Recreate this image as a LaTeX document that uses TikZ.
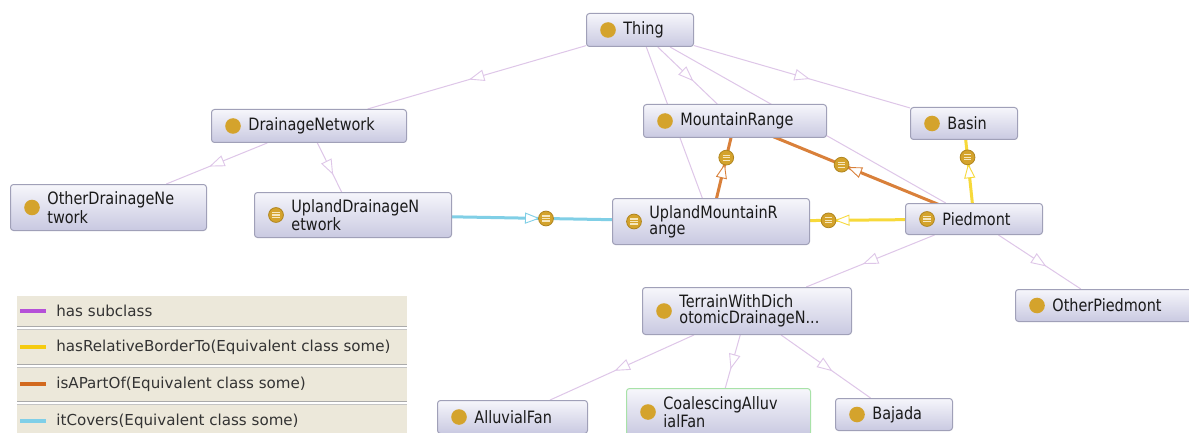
\documentclass[tikz,border=0pt]{standalone}
\usepackage{fontspec}
\usetikzlibrary{decorations.markings}
\newfontfamily\nodefont[FakeStretch=0.85]{DejaVu Sans}
\newfontfamily\legfont{DejaVu Sans}

\definecolor{gold}{HTML}{D4A32C}
\definecolor{golddk}{HTML}{B0851F}
\definecolor{eqline}{HTML}{F6E7BE}
\definecolor{boxline}{HTML}{A0A0B8}
\definecolor{boxtop}{HTML}{F6F6FB}
\definecolor{boxbot}{HTML}{C9C9E1}
\definecolor{selline}{HTML}{A8E2A8}
\definecolor{txt}{HTML}{1A1A1A}
\definecolor{subc}{HTML}{DEC6E8}
\definecolor{borderto}{HTML}{F7D93A}
\definecolor{partof}{HTML}{D9803A}
\definecolor{covers}{HTML}{80CFE6}
\definecolor{legbg}{HTML}{ECE8DA}
\definecolor{legsep}{HTML}{AAAAAA}
\definecolor{legtxt}{HTML}{333333}
\definecolor{swsub}{HTML}{B550D8}
\definecolor{swborder}{HTML}{F5CB10}
\definecolor{swpart}{HTML}{D2691E}
\definecolor{swcover}{HTML}{7FCFE8}

\pgfdeclarelayer{canvas}
\pgfdeclarelayer{background}
\pgfsetlayers{canvas,background,main}

% class box: name, x1, y1, x2, y2 (pixel grid), icon style, extra box style, label
\newcommand\classbox[8]{%
  \pgfmathsetmacro\boxw{(#4-#2)*0.5}%
  \pgfmathsetmacro\boxh{(#5-#3)*0.5}%
  \node[clsbox,#7,minimum width=\boxw pt,minimum height=\boxh pt,anchor=north west] (#1) at (#2,#3) {};
  \node[#6] (#1-i) at ([xshift=11pt]#1.west) {};
  \node[clstext] (#1-t) at ([xshift=18.5pt]#1.west) {#8};
}

\tikzset{
  clsbox/.style={rectangle, rounded corners=1.5pt, draw=boxline, line width=0.5pt,
    top color=boxtop, bottom color=boxbot, inner sep=0pt},
  clstext/.style={anchor=west, inner sep=0pt, align=left, text=txt,
    font=\nodefont\fontsize{8.5}{8.1}\selectfont},
  doticon/.style={circle, fill=gold, minimum size=7.8pt, inner sep=0pt},
  eqicon/.style={circle, fill=gold, draw=golddk, line width=0.4pt, minimum size=7.4pt, inner sep=0pt,
    path picture={\foreach \d in {-1.25,0,1.25}
      \draw[eqline, line width=0.55pt] ([xshift=-1.8pt,yshift=\d pt]path picture bounding box.center)
        -- ([xshift=1.8pt,yshift=\d pt]path picture bounding box.center);}},
  subedge/.style={draw=subc, line width=0.5pt,
    postaction={decorate, decoration={markings, mark=at position 0.5 with {
      \filldraw[fill=white, draw=subc, line width=0.45pt]
        (3.4pt,0pt) -- (-3.4pt,2.6pt) -- (-3.4pt,-2.6pt) -- cycle;}}}},
  reledge/.style n args={2}{draw=#1, line width=1.5pt,
    postaction={decorate, decoration={markings, mark=at position 0.5 with {
      \filldraw[fill=white, draw=#1, line width=0.45pt]
        (3.25pt,0pt) -- (-3.25pt,2.5pt) -- (-3.25pt,-2.5pt) -- cycle;
      \node[eqicon] (#2) at (7pt,0pt) {};}}}},
  legtext/.style={anchor=west, inner sep=0pt, text=legtxt,
    font=\legfont\fontsize{7.55}{9}\selectfont},
  swatch/.style={line width=2pt}
}

\begin{document}
\begin{tikzpicture}[x=0.5pt, y=-0.5pt]
\begin{pgfonlayer}{canvas}
  \fill[white] (0,0) rectangle (1189,433);
\end{pgfonlayer}
\useasboundingbox (0,0) rectangle (1189,433);

% class boxes
\classbox{thing}{586}{13}{693}{46}{doticon}{}{Thing}
\classbox{dn}{211}{109}{406}{142}{doticon}{}{DrainageNetwork}
\classbox{mr}{643}{104}{826}{137}{doticon}{}{MountainRange}
\classbox{basin}{910}{107}{1017}{139}{doticon}{}{Basin}
\classbox{odn}{10}{184}{206}{230}{doticon}{}{OtherDrainageNe\\twork}
\classbox{udn}{254}{192}{451}{237}{eqicon}{}{UplandDrainageN\\etwork}
\classbox{umr}{612}{198}{809}{244}{eqicon}{}{UplandMountainR\\ange}
\classbox{pied}{905}{203}{1042}{234}{eqicon}{}{Piedmont}
\classbox{opied}{1015}{289}{1196}{321}{doticon}{}{OtherPiedmont}
\classbox{terr}{642}{287}{851}{334}{doticon}{}{TerrainWithDich\\otomicDrainageN...}
\classbox{alluv}{437}{400}{587}{433}{doticon}{}{AlluvialFan}
\classbox{coal}{626}{388}{810}{435}{doticon}{draw=selline}{CoalescingAlluv\\ialFan}
\classbox{bajada}{835}{398}{952}{430}{doticon}{}{Bajada}

% connectors, kept behind the boxes
\begin{pgfonlayer}{background}
  \draw[subedge] (thing) -- (dn);
  \draw[subedge] (thing) -- (mr);
  \draw[subedge] (thing) -- (basin);
  \draw[subedge] (thing) -- (umr);
  \draw[subedge] (thing) -- (pied);
  \draw[subedge] (dn) -- (odn);
  \draw[subedge] (dn) -- (udn);
  \draw[subedge] (pied) -- (terr);
  \draw[subedge] (pied) -- (opied);
  \draw[subedge] (terr) -- (alluv);
  \draw[subedge] (terr) -- (coal);
  \draw[subedge] (terr) -- (bajada);

  \draw[reledge={covers}{cov1}] (udn.center) -- (umr.center);
  \draw[reledge={partof}{part1}] (umr.center) -- (mr.center);
  \draw[reledge={partof}{part2}] (pied.center) -- (mr.center);
  \draw[reledge={borderto}{bord1}] (pied.center) -- (basin.center);
  \draw[reledge={borderto}{bord2}] (pied.center) -- (umr.center);
\end{pgfonlayer}

% legend
\fill[legbg] (17,296) rectangle (407,326);
\fill[legbg] (17,330) rectangle (407,364);
\fill[legbg] (17,368) rectangle (407,401);
\fill[legbg] (17,405) rectangle (407,433);
\foreach \s in {326.5,364.5,401.5} {
  \draw[legsep, line width=0.5pt] (17,\s) -- (407,\s);
  \draw[legsep!70, line width=0.5pt] (17,\s+3) -- (407,\s+3);
}
\draw[swatch, swsub] (20,311) -- (46,311);
\node[legtext] (leg1) at (56,311) {has subclass};
\draw[swatch, swborder] (20,347) -- (46,347);
\node[legtext] (leg2) at (56,347) {hasRelativeBorderTo(Equivalent class some)};
\draw[swatch, swpart] (20,384) -- (46,384);
\node[legtext] (leg3) at (56,384) {isAPartOf(Equivalent class some)};
\draw[swatch, swcover] (20,421) -- (46,421);
\node[legtext] (leg4) at (56,421) {itCovers(Equivalent class some)};
\end{tikzpicture}
\end{document}
